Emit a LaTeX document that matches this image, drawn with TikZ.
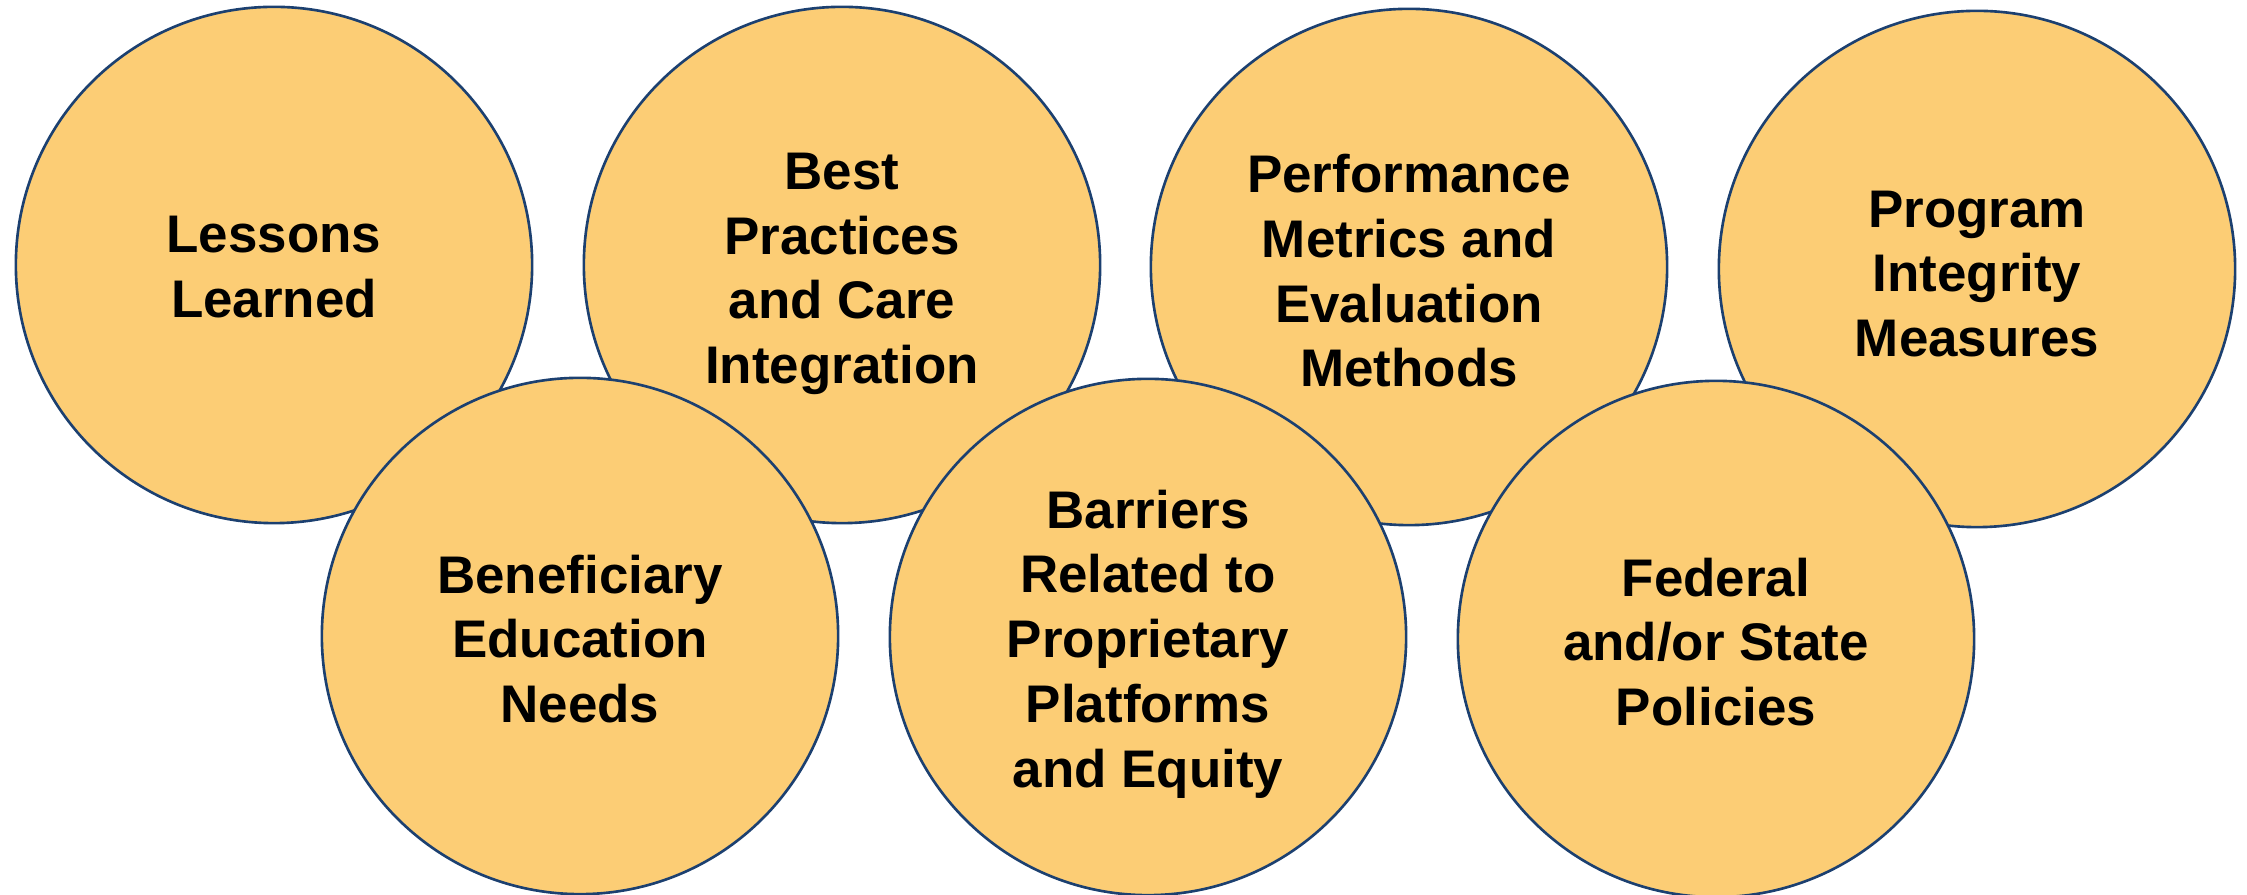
\documentclass[tikz,border=0pt]{standalone}
\usepackage{fontspec}
\setmainfont{Liberation Sans}
\definecolor{bubblefill}{RGB}{252,205,117}
\definecolor{bubbleline}{RGB}{28,64,112}
\tikzset{
  bubble/.style={circle, draw=bubbleline, fill=bubblefill, line width=0.75pt,
    minimum size=5.16cm, inner sep=0pt},
  bubbletext/.style={align=center, inner sep=0pt,
    font=\fontsize{15.05pt}{18.4pt}\selectfont\bfseries, text=black}
}
\begin{document}
\begin{tikzpicture}[x=0.01cm, y=-0.01cm]
\useasboundingbox (0,0) rectangle (2247,895);
% top row
\node[bubble] (lessons) at (274,265) {};
\node[bubble] (best) at (842,265) {};
\node[bubble] (perf) at (1409,267) {};
\node[bubble] (integrity) at (1977,269) {};
\node[bubbletext] (lessons-t) at (274,267) {Lessons\\Learned};
\node[bubbletext] (best-t) at (842,274) {Best\\Practices\\and Care\\Integration};
\node[bubbletext] (perf-t) at (1409,271) {Performance\\Metrics and\\Evaluation\\Methods};
\node[bubbletext] (integrity-t) at (1977,274) {Program\\Integrity\\Measures};
% bottom row
\node[bubble] (benef) at (580,636) {};
\node[bubble] (barriers) at (1148,637) {};
\node[bubble] (policy) at (1716,639) {};
\node[bubbletext] (benef-t) at (580,639) {Beneficiary\\Education\\Needs};
\node[bubbletext] (barriers-t) at (1148,644) {Barriers\\Related to\\Proprietary\\Platforms\\and Equity};
\node[bubbletext] (policy-t) at (1716,642) {Federal\\and/or State\\Policies};
\end{tikzpicture}
\end{document}
